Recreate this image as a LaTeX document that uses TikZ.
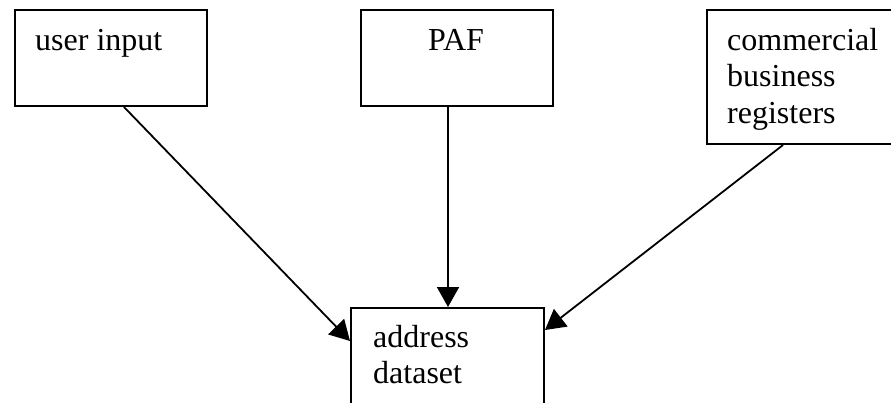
\documentclass[tikz,border=0pt]{standalone}
\usepackage{fontspec}
\setmainfont{Liberation Serif}
\usetikzlibrary{arrows.meta}

\tikzset{
  srcbox/.style={draw, line width=2pt, minimum width=192pt, inner sep=0pt, anchor=north west},
  % multi-line labels are placed by the baseline of their last line
  lbl/.style={inner sep=0pt, font=\fontsize{32}{36.5}\selectfont, align=left, anchor=base west},
  feed/.style={line width=1.8pt, -{Triangle[length=20pt,width=22pt]}}
}

\begin{document}
\begin{tikzpicture}[x=1pt, y=-1pt]
  \useasboundingbox (0,0) rectangle (891,402);
  \clip (0,0) rectangle (891,402);

  % source boxes
  \node[srcbox, minimum height=96pt]  (ui)  at (14,9)  {};
  \node[srcbox, minimum height=96pt]  (paf) at (360,9) {};
  \node[srcbox, minimum height=134pt] (cbr) at (706,9) {};
  % target box, runs past the lower edge
  \node[srcbox, minimum width=193pt, minimum height=130pt] (ads) at (350,307) {};

  % labels
  \node[lbl] (uit)  at (35,50)  {user input};
  \node[lbl, anchor=base] (paft) at (456,50) {PAF};
  \node[lbl] (cbrt) at (727,123) {commercial\\business\\registers};
  \node[lbl] (adst) at (373,383.5) {address\\dataset};

  % feeds into the dataset
  \draw[feed] ([xshift=13pt]ui.south) -- ([yshift=-34pt]ads.north west);
  \draw[feed] ([xshift=-9pt]paf.south) -- ([xshift=-9pt]paf.south |- ads.north);
  \draw[feed] ([xshift=-20pt]cbr.south) -- ([yshift=-23pt]ads.north east);
\end{tikzpicture}
\end{document}
